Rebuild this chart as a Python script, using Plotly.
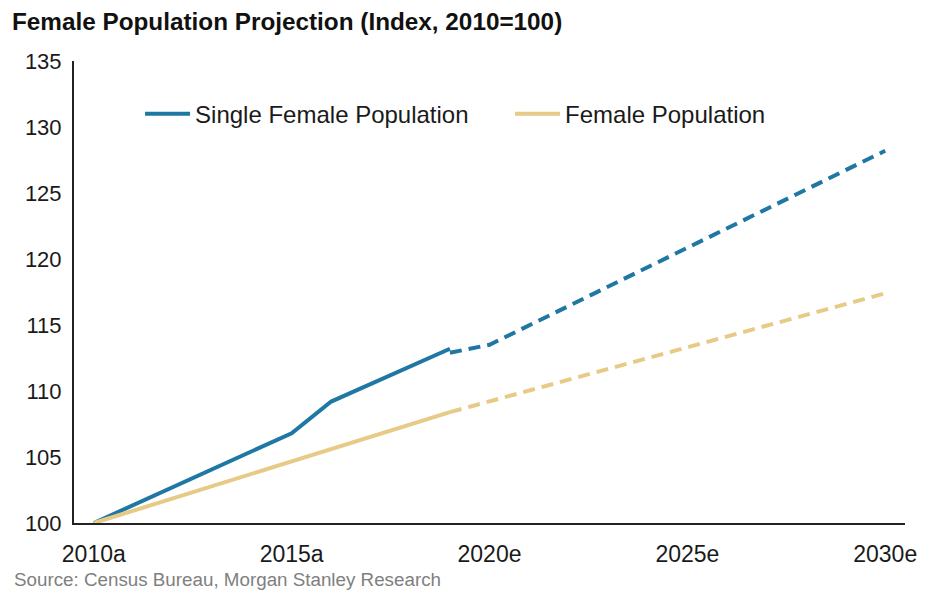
import plotly.graph_objects as go

# ---- data ----
single_hist_years = [2010, 2015, 2016, 2019]
single_hist_vals = [100.0, 106.8, 109.2, 113.2]
single_proj_years = [2019, 2020, 2030]
single_proj_vals = [112.9, 113.5, 128.2]

female_hist_years = [2010, 2019]
female_hist_vals = [100.0, 108.4]
female_proj_years = [2019, 2030]
female_proj_vals = [108.4, 117.4]

x_tick_vals = [2010, 2015, 2020, 2025, 2030]
x_tick_text = ["2010a", "2015a", "2020e", "2025e", "2030e"]
y_tick_vals = [100, 105, 110, 115, 120, 125, 130, 135]

BLUE = "#1f77a4"
TAN = "#e6ca86"
FONT = "Liberation Sans, Arial, sans-serif"

W, H = 929, 590
PL, PR, PT, PB = 74, 914, 61, 523

fig = go.Figure()
fig.add_trace(go.Scatter(x=single_hist_years, y=single_hist_vals, mode="lines",
                         name="Single Female Population",
                         line=dict(color=BLUE, width=4)))
fig.add_trace(go.Scatter(x=female_hist_years, y=female_hist_vals, mode="lines",
                         name="Female Population",
                         line=dict(color=TAN, width=4)))
fig.add_trace(go.Scatter(x=single_proj_years, y=single_proj_vals, mode="lines",
                         showlegend=False,
                         line=dict(color=BLUE, width=4, dash="12px,7px")))
fig.add_trace(go.Scatter(x=female_proj_years, y=female_proj_vals, mode="lines",
                         showlegend=False,
                         line=dict(color=TAN, width=4, dash="12px,7px")))

fig.update_layout(
    width=W, height=H,
    margin=dict(l=PL, r=W - PR, t=PT, b=H - PB),
    paper_bgcolor="white", plot_bgcolor="white",
    font=dict(family=FONT, color="#1a1a1a"),
    title=dict(text="<b>Female Population Projection (Index, 2010=100)</b>",
               x=12 / W, xanchor="left", xref="container",
               y=1 - 21 / H, yanchor="middle", yref="container",
               font=dict(size=24.3, color="#111111", family=FONT)),
    showlegend=True,
    legend=dict(orientation="h", x=0.0795, xanchor="left",
                y=0.885, yanchor="middle",
                font=dict(size=24, family=FONT, color="#1a1a1a"),
                itemwidth=45, entrywidth=310, entrywidthmode="pixels",
                bgcolor="rgba(0,0,0,0)"),
    xaxis=dict(range=[2009.5, 2030.5], tickvals=x_tick_vals, ticktext=x_tick_text,
               showgrid=False, zeroline=False, showline=True, linecolor="#222222",
               linewidth=2, ticks="", tickfont=dict(size=23, family=FONT, color="#1a1a1a"),
               ticklabelstandoff=9, ticklabeloverflow="allow"),
    yaxis=dict(range=[100, 135], tickvals=y_tick_vals,
               showgrid=False, zeroline=False, showline=True, linecolor="#222222",
               linewidth=2, ticks="", tickfont=dict(size=22, family=FONT, color="#1a1a1a"),
               ticklabelstandoff=6),
    annotations=[dict(text="Source: Census Bureau, Morgan Stanley Research",
                      xref="paper", yref="paper",
                      x=(11 - PL) / (PR - PL), y=(PB - 579) / (PB - PT),
                      xanchor="left", yanchor="middle", showarrow=False,
                      font=dict(size=18.8, color="#808080", family=FONT))],
)

fig.write_html("out.html", config={"displayModeBar": False},
               post_script="document.body.style.margin='0';document.body.style.padding='0';")
